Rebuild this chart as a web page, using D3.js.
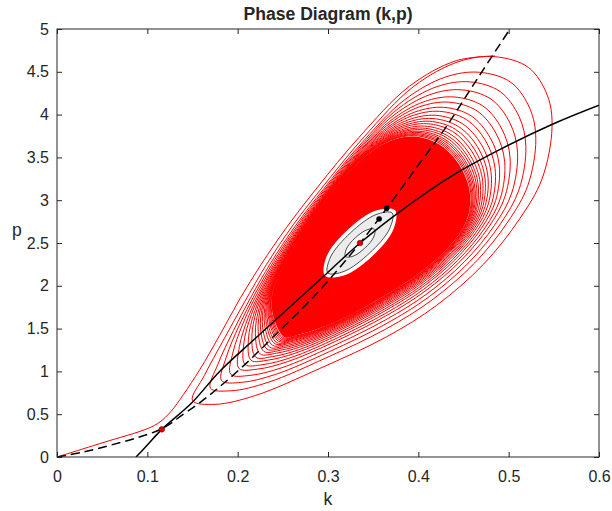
<!DOCTYPE html>
<html>
<head>
<meta charset="utf-8">
<script src="https://cdn.jsdelivr.net/npm/d3@7"></script>
<style>
  body { margin: 0; background: #fff; }
  text { font-family: "Liberation Sans", Arial, Helvetica, sans-serif; fill: #262626; }
</style>
</head>
<body>
<div id="chart"></div>
<script>
// tick values
var xTicks = [0, 0.1, 0.2, 0.3, 0.4, 0.5, 0.6];
var yTicks = [0, 0.5, 1, 1.5, 2, 2.5, 3, 3.5, 4, 4.5, 5];

// k-nullcline (solid) and p-nullcline (dashed)
var solidCurve = [[0.0875,0],[0.10,0.14],[0.116,0.323],[0.149,0.63],[0.18,1.0],[0.22,1.39],
  [0.291,2.07],[0.3355,2.5],[0.380,2.87],[0.435,3.27],[0.490,3.59],[0.549,3.89],[0.6,4.11]];
var dashedCurve = [[0,0],[0.03,0.06],[0.06,0.14],[0.09,0.23],[0.116,0.33],[0.14,0.50],[0.16,0.65],
  [0.18,0.82],[0.21,1.10],[0.24,1.41],[0.2875,1.91],[0.3355,2.5],[0.365,2.905],[0.40,3.41],
  [0.431,3.86],[0.466,4.43],[0.5015,5.0]];

// trajectory: first leg from the origin
var firstLeg = [[0,0],[0.05,0.165],[0.101,0.335],[0.114,0.41],[0.126,0.53],[0.14,0.73],[0.158,1.02],
  [0.18,1.42],[0.2026,1.85],[0.226,2.25],[0.254,2.68],[0.289,3.16],[0.334,3.73],[0.39,4.33],
  [0.442,4.63],[0.485,4.685]];
// outermost loop, from the lower-left tip up the left side and round
var outerLoop = [[0.150,0.66],[0.163,0.95],[0.185,1.38],[0.207,1.80],[0.232,2.25],[0.262,2.72],
  [0.296,3.18],[0.340,3.74],[0.395,4.33],[0.445,4.62],[0.485,4.676],[0.522,4.55],[0.543,4.22],
  [0.548,3.85],[0.537,3.25],[0.512,2.78],[0.472,2.25],[0.420,1.77],[0.365,1.405],[0.291,1.035],
  [0.220,0.72],[0.175,0.615]];
// edge of the solid red band, same order as outerLoop
var denseEdge = [[0.252,1.40],[0.240,1.62],[0.238,1.88],[0.245,2.12],[0.257,2.36],[0.272,2.62],
  [0.291,2.92],[0.315,3.24],[0.342,3.52],[0.368,3.69],[0.395,3.745],[0.422,3.66],[0.443,3.45],
  [0.456,3.15],[0.456,2.85],[0.445,2.60],[0.422,2.33],[0.395,2.10],[0.362,1.88],[0.325,1.66],
  [0.290,1.50],[0.268,1.43]];
// where each visible loop sits between denseEdge (0) and outerLoop (1)
var loopLevels = [1, 0.805, 0.685, 0.585, 0.495, 0.43, 0.365, 0.315, 0.265, 0.225, 0.19, 0.16,
  0.13, 0.105, 0.085, 0.065, 0.05, 0.035, 0.022, 0.01];

// the hole around the steady state
var holeEdge = [[0.3743,2.882],[0.3725,2.661],[0.3490,2.346],[0.3176,2.121],[0.2966,2.118],
  [0.2983,2.339],[0.3218,2.654],[0.3533,2.880]];
var limitCycle = [[0.3711,2.850],[0.3681,2.664],[0.3459,2.381],[0.3177,2.168],[0.2998,2.150],
  [0.3028,2.336],[0.3249,2.619],[0.3531,2.832]];
var innerCycle = [[0.3516,2.659],[0.3506,2.570],[0.3407,2.440],[0.3278,2.346],[0.3193,2.341],
  [0.3203,2.430],[0.3301,2.560],[0.3431,2.654]];

var redDots = [[0.116,0.323],[0.3355,2.5]];
var blackDots = [[0.3566,2.78],[0.365,2.905]];

var margin = {top: 29, left: 57},
    width = 542,
    height = 428;

var svg = d3.select("#chart").append("svg")
  .attr("width", 612)
  .attr("height", 511);

var g = svg.append("g")
  .attr("transform", "translate(" + margin.left + "," + margin.top + ")");

var x = d3.scaleLinear().domain([0, 0.6]).range([0, width]);
var y = d3.scaleLinear().domain([0, 5]).range([height, 0]);

svg.append("defs").append("clipPath").attr("id", "clip")
  .append("rect").attr("width", width).attr("height", height);

var plot = g.append("g").attr("clip-path", "url(#clip)");

var closedLine = d3.line().x(d => x(d[0])).y(d => y(d[1])).curve(d3.curveCatmullRomClosed);
var openLine = d3.line().x(d => x(d[0])).y(d => y(d[1])).curve(d3.curveCatmullRom);

// solid band where the loops pile up
plot.append("path")
  .attr("d", closedLine(denseEdge))
  .attr("fill", "#ff0000");

// loops between the band and the outer loop
loopLevels.forEach(function(t) {
  var pts = outerLoop.map(function(o, i) {
    var d = denseEdge[i];
    return [d[0] + t * (o[0] - d[0]), d[1] + t * (o[1] - d[1])];
  });
  plot.append("path")
    .attr("d", closedLine(pts))
    .attr("fill", "none")
    .attr("stroke", "#ff0000")
    .attr("stroke-width", 1);
});

plot.append("path")
  .attr("d", openLine(firstLeg))
  .attr("fill", "none")
  .attr("stroke", "#ff0000")
  .attr("stroke-width", 1);

// hole with the limit cycle
plot.append("path").attr("d", closedLine(holeEdge)).attr("fill", "#fff");
plot.append("path").attr("d", closedLine(limitCycle))
  .attr("fill", "#ececec").attr("stroke", "#4d4d4d").attr("stroke-width", 1);
plot.append("path").attr("d", closedLine(innerCycle))
  .attr("fill", "#f6f6f6").attr("stroke", "#4d4d4d").attr("stroke-width", 1);

// nullclines
plot.append("path")
  .attr("d", openLine(solidCurve))
  .attr("fill", "none")
  .attr("stroke", "#000")
  .attr("stroke-width", 1.5);

plot.append("path")
  .attr("d", openLine(dashedCurve))
  .attr("fill", "none")
  .attr("stroke", "#000")
  .attr("stroke-width", 1.5)
  .attr("stroke-dasharray", "9,5");

plot.selectAll(".bdot").data(blackDots).enter().append("circle")
  .attr("cx", d => x(d[0])).attr("cy", d => y(d[1])).attr("r", 2.8)
  .attr("fill", "#000");

plot.selectAll(".rdot").data(redDots).enter().append("circle")
  .attr("cx", d => x(d[0])).attr("cy", d => y(d[1])).attr("r", 2.8)
  .attr("fill", "#e00000").attr("stroke", "#7a0000").attr("stroke-width", 0.6);

// axes, MATLAB style box with inward ticks
var axisColor = "#262626";
function styleAxis(sel) {
  sel.select(".domain").remove();
  sel.selectAll(".tick line").attr("stroke", axisColor);
  sel.selectAll(".tick text").style("font-size", "16px")
    .style("font-family", '"Liberation Sans", Arial, sans-serif').attr("fill", axisColor);
}

g.append("g").attr("transform", "translate(0," + height + ")")
  .call(d3.axisBottom(x).tickValues(xTicks).tickSizeInner(-5).tickSizeOuter(0)
    .tickPadding(14).tickFormat(d => String(d)))
  .call(styleAxis);
g.append("g")
  .call(d3.axisTop(x).tickValues(xTicks).tickSizeInner(-5).tickSizeOuter(0).tickFormat(""))
  .call(styleAxis);
g.append("g")
  .call(d3.axisLeft(y).tickValues(yTicks).tickSizeInner(-5).tickSizeOuter(0)
    .tickPadding(8).tickFormat(d => String(d)))
  .call(styleAxis);
g.append("g").attr("transform", "translate(" + width + ",0)")
  .call(d3.axisRight(y).tickValues(yTicks).tickSizeInner(-5).tickSizeOuter(0).tickFormat(""))
  .call(styleAxis);

g.append("rect")
  .attr("width", width).attr("height", height)
  .attr("fill", "none").attr("stroke", axisColor).attr("stroke-width", 1);

// title and labels
svg.append("text")
  .attr("x", margin.left + width / 2).attr("y", 20)
  .attr("text-anchor", "middle")
  .style("font-size", "17.6px").style("font-weight", "bold")
  .text("Phase Diagram (k,p)");

svg.append("text")
  .attr("x", margin.left + width / 2).attr("y", 505)
  .attr("text-anchor", "middle")
  .style("font-size", "17.6px")
  .text("k");

svg.append("text")
  .attr("x", 17).attr("y", 236)
  .attr("text-anchor", "middle")
  .style("font-size", "17.6px")
  .text("p");
</script>
</body>
</html>
